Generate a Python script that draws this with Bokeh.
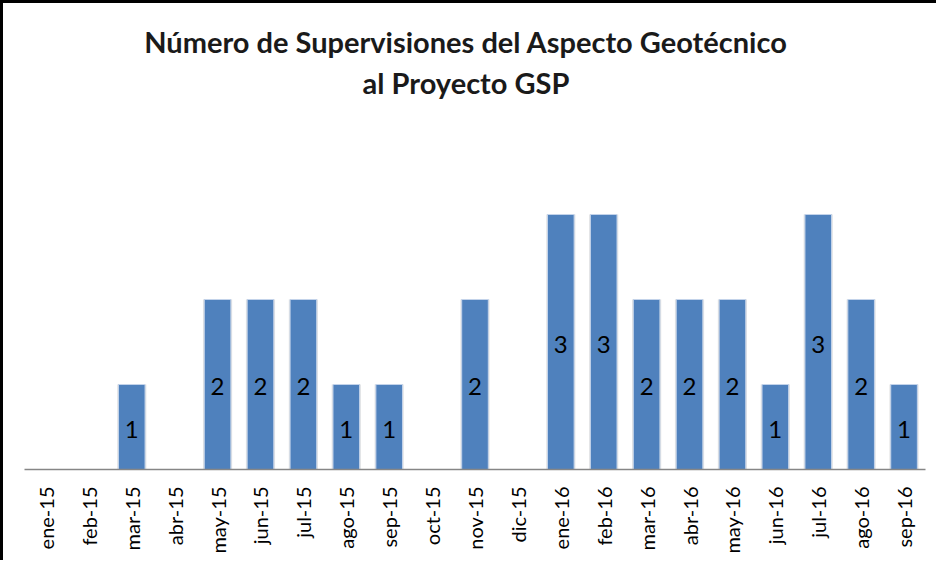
from bokeh.plotting import figure
from bokeh.models import Range1d, FactorRange, ColumnDataSource
from bokeh.core.properties import value
from bokeh.embed import file_html
from bokeh.resources import INLINE

months = ["ene-15", "feb-15", "mar-15", "abr-15", "may-15", "jun-15", "jul-15",
          "ago-15", "sep-15", "oct-15", "nov-15", "dic-15", "ene-16", "feb-16",
          "mar-16", "abr-16", "may-16", "jun-16", "jul-16", "ago-16", "sep-16"]
counts = [0, 0, 1, 0, 2, 2, 2, 1, 1, 0, 2, 0, 3, 3, 2, 2, 2, 1, 3, 2, 1]
title_lines = ["Número de Supervisiones del Aspecto Geotécnico", "al Proyecto GSP"]

W, H = 936, 560
p = figure(width=W, height=H, x_range=FactorRange(*months, range_padding=0),
           y_range=Range1d(0, 466 / 85), output_backend="svg", toolbar_location=None,
           y_axis_location=None, min_border_left=21, min_border_right=14,
           min_border_top=0, min_border_bottom=94)
p.styles = {"border-left": "3px solid black", "border-top": "3px solid black"}
p.outline_line_color = None
p.xgrid.grid_line_color = None
p.ygrid.grid_line_color = None
p.background_fill_color = "white"
p.border_fill_color = "white"

nz = [(m, c) for m, c in zip(months, counts) if c > 0]
src = ColumnDataSource(dict(x=[m for m, c in nz], top=[c for m, c in nz],
                            mid=[c / 2 for m, c in nz], lab=[str(c) for m, c in nz]))

p.vbar(x="x", top="top", width=0.68, source=src, fill_color="#d0d0d0",
       fill_alpha=0.6, line_color=None)
p.vbar(x="x", top="top", width=0.62, source=src, fill_color="#4f81bd",
       line_color="#c3d3ea", line_width=1)
p.text(x="x", y="mid", text="lab", source=src, text_font=value("Lato"),
       text_font_size="24px", text_color="black", text_align="center",
       text_baseline="middle", y_offset=2)

tsrc = ColumnDataSource(dict(x=["nov-15", "nov-15"], y=[5.03, 4.55], t=title_lines))
p.text(x="x", y="y", text="t", source=tsrc, text_font=value("Lato"),
       text_font_style="bold", text_font_size="29px", text_color="#1a1a1a",
       text_align="center", text_baseline="middle", x_offset=-9)

ax = p.xaxis[0]
ax.axis_line_color = "#868686"
ax.axis_line_width = 1.5
ax.major_tick_line_color = None
ax.minor_tick_line_color = None
ax.major_label_orientation = 1.5708
ax.major_label_standoff = 11
ax.major_label_text_font = "Lato"
ax.major_label_text_font_size = "20px"
ax.major_label_text_color = "black"

open("out.html", "w").write(file_html(p, INLINE))
